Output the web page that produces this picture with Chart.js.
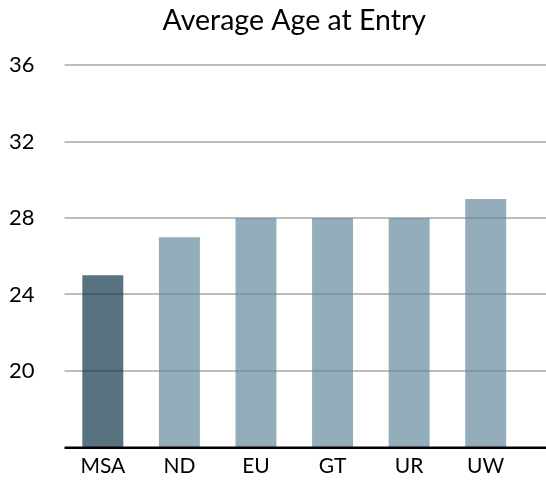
<!DOCTYPE html>
<html>
<head>
<meta charset="utf-8">
<script src="https://cdn.jsdelivr.net/npm/chart.js@4.4.1/dist/chart.umd.min.js"></script>
<style>
  html, body { margin: 0; padding: 0; background: #fff; }
  #wrap { width: 546px; height: 486px; }
</style>
</head>
<body>
<div id="wrap"><canvas id="c" width="546" height="486"></canvas></div>
<script>
const categories = ["MSA", "ND", "EU", "GT", "UR", "UW"];
const ageValues = [25, 27, 28, 28, 28, 29];
const yTicks = [20, 24, 28, 32, 36];
const titleText = "Average Age at Entry";

const FONT = "Lato, 'Open Sans', sans-serif";

const extendedGrid = {
  id: 'extendedGrid',
  beforeDatasetsDraw(chart) {
    const { ctx, chartArea, scales } = chart;
    const y = scales.y;
    ctx.save();
    ctx.strokeStyle = '#bdbdbd';
    ctx.lineWidth = 2;
    yTicks.forEach(v => {
      const py = Math.round(y.getPixelForValue(v));
      ctx.beginPath();
      ctx.moveTo(chartArea.left, py);
      ctx.lineTo(chart.width, py);
      ctx.stroke();
    });
    ctx.restore();
  },
  afterDatasetsDraw(chart) {
    const { ctx, chartArea, scales } = chart;
    const py = scales.y.getPixelForValue(scales.y.min);
    ctx.save();
    ctx.strokeStyle = '#000';
    ctx.lineWidth = 2.5;
    ctx.beginPath();
    ctx.moveTo(chartArea.left, py + 0.5);
    ctx.lineTo(chart.width, py + 0.5);
    ctx.stroke();
    ctx.restore();
  }
};

new Chart(document.getElementById('c'), {
  type: 'bar',
  data: {
    labels: categories,
    datasets: [{
      data: ageValues,
      backgroundColor: ageValues.map((v, i) => i === 0 ? 'rgba(19,54,74,0.7)' : 'rgba(101,139,156,0.7)'),
      borderWidth: 0,
      categoryPercentage: 1,
      barPercentage: 0.535
    }]
  },
  options: {
    responsive: false,
    animation: false,
    layout: { padding: { left: 9, right: 22, top: 0, bottom: 0 } },
    plugins: {
      legend: { display: false },
      tooltip: { enabled: false },
      title: {
        display: true,
        fullSize: false,
        text: titleText,
        color: '#000',
        font: { family: FONT, size: 28.5, weight: 'normal' },
        padding: { top: 4, bottom: 27 }
      }
    },
    scales: {
      x: {
        grid: { display: false, drawTicks: false },
        border: { display: false },
        ticks: { color: '#000', font: { family: FONT, size: 21, lineHeight: 0.7 }, padding: 12 }
      },
      y: {
        min: 16,
        max: 36,
        grid: { display: false, drawTicks: false },
        border: { display: false },
        afterBuildTicks(scale) {
          scale.ticks = yTicks.map(v => ({ value: v }));
        },
        ticks: {
          color: '#000',
          font: { family: FONT, size: 22 },
          crossAlign: 'far',
          padding: 15
        }
      }
    }
  },
  plugins: [extendedGrid]
});
</script>
</body>
</html>
